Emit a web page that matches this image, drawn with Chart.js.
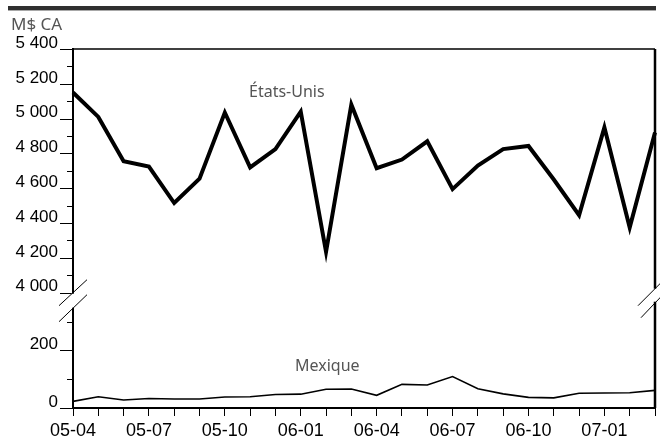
<!DOCTYPE html>
<html>
<head>
<meta charset="utf-8">
<script src="https://cdn.jsdelivr.net/npm/chart.js@4"></script>
<style>
  html, body { margin: 0; padding: 0; background: #fff; }
  #wrap { width: 660px; height: 438px; position: relative; }
</style>
</head>
<body>
<div id="wrap"><canvas id="chart"></canvas></div>
<script>
/* ── Data ── */
const months = [
  '05-04','05-05','05-06','05-07','05-08','05-09','05-10','05-11','05-12',
  '06-01','06-02','06-03','06-04','06-05','06-06','06-07','06-08','06-09',
  '06-10','06-11','06-12','07-01','07-02','07-03'
];
const etatsUnis = [
  5150, 5010, 4755, 4725, 4515, 4655, 5035, 4720, 4825, 5040, 4235, 5080,
  4715, 4765, 4870, 4595, 4730, 4825, 4843, 4650, 4445, 4950, 4375, 4920
];
const mexique = [
  23, 39, 28, 33, 31, 31, 38, 39, 47, 48, 65, 66,
  44, 82, 80, 109, 67, 49, 37, 35, 51, 52, 53, 61
];
const topRange = [4000, 5400];
const bottomRange = [0, 400];

const fmt = v => String(v).replace(/\B(?=(\d{3})+(?!\d))/g, ' ');

/* ── Decorations: ticks, frame, axis breaks, texts ── */
const decor = {
  id: 'decor',
  afterDraw(chart) {
    const { ctx, chartArea: a, scales } = chart;
    ctx.save();

    // top bar
    ctx.fillStyle = '#2f2f2f';
    ctx.fillRect(8, 6, 648, 4);
    ctx.fillStyle = '#a8a8a8';
    ctx.fillRect(8, 10, 648, 1);

    // frame top + right
    ctx.strokeStyle = '#000';
    ctx.lineWidth = 1.5;
    ctx.beginPath();
    ctx.moveTo(a.left, a.top); ctx.lineTo(a.right, a.top);
    ctx.stroke();
    ctx.lineWidth = 2.5;
    ctx.beginPath();
    ctx.moveTo(a.right, a.top); ctx.lineTo(a.right, a.bottom);
    ctx.stroke();

    // y ticks (major 200, minor 100)
    ctx.lineWidth = 1;
    [scales.yTop, scales.yBot].forEach(s => {
      s.ticks.forEach(t => {
        if (s.id === 'yBot' && t.value >= 400) return;
        const y = Math.round(s.getPixelForValue(t.value)) + 0.5;
        const len = t.value % 200 === 0 ? 13 : 6;
        ctx.beginPath();
        ctx.moveTo(a.left - len, y); ctx.lineTo(a.left, y);
        ctx.stroke();
      });
    });

    // axis breaks
    const yb = scales.yTop.getPixelForValue(4000);
    ctx.fillStyle = '#fff';
    ctx.fillRect(a.left - 2, yb + 1, 4, 14);
    ctx.fillRect(a.right - 2, yb - 4, 4, 13);
    ctx.lineWidth = 1;
    ctx.strokeStyle = '#000';
    ctx.beginPath();
    ctx.moveTo(59, yb + 13); ctx.lineTo(87, yb - 13);
    ctx.moveTo(59, yb + 29); ctx.lineTo(87, yb + 2);
    ctx.moveTo(638, yb + 13); ctx.lineTo(661, yb - 10);
    ctx.moveTo(641, yb + 25); ctx.lineTo(661, yb + 4);
    ctx.stroke();

    // texts
    ctx.fillStyle = '#555';
    ctx.font = '17px "Noto Sans"';
    ctx.textAlign = 'left';
    ctx.textBaseline = 'alphabetic';
    ctx.fillText('M$ CA', 11, 30);

    ctx.font = '16px "Noto Sans"';
    ctx.textAlign = 'center';
    ctx.fillText('États-Unis', scales.x.getPixelForValue(8.45), scales.yTop.getPixelForValue(5125));
    ctx.fillText('Mexique', scales.x.getPixelForValue(10.05), scales.yBot.getPixelForValue(127));

    ctx.restore();
  }
};

const yTicks = (labelIf) => ({
  stepSize: 100, autoSkip: false, maxTicksLimit: 50,
  padding: 15, labelOffset: -6, color: '#000',
  font: { family: '"Liberation Sans", Arial', size: 17 },
  callback: v => (labelIf(v) ? fmt(v) : ''),
});

/* ── Chart ── */
new Chart(document.getElementById('chart'), {
  type: 'line',
  data: {
    labels: months,
    datasets: [
      {
        label: 'États-Unis', data: etatsUnis, yAxisID: 'yTop',
        borderColor: '#000', borderWidth: 4, borderJoinStyle: 'miter',
        pointRadius: 0, tension: 0, fill: false,
      },
      {
        label: 'Mexique', data: mexique, yAxisID: 'yBot',
        borderColor: '#000', borderWidth: 1.6,
        pointRadius: 0, tension: 0, fill: false,
      },
    ],
  },
  options: {
    responsive: true, maintainAspectRatio: false,
    animation: false,
    layout: { padding: { top: 49, right: 5, left: 0, bottom: 0 } },
    plugins: { legend: { display: false }, tooltip: { enabled: false } },
    scales: {
      x: {
        type: 'category',
        offset: false,
        grid: { drawOnChartArea: false, drawTicks: true, tickLength: 8, color: '#000', tickWidth: 1 },
        border: { color: '#000', width: 2 },
        ticks: {
          autoSkip: false, maxRotation: 0, padding: 4, color: '#000',
          font: { family: '"Liberation Sans", Arial', size: 18 },
          callback: (v, i) => (i % 3 === 0 ? months[i] : ''),
        },
        afterFit: s => { s.height = 30; },
      },
      yTop: {
        type: 'linear', position: 'left', stack: 'y', stackWeight: 243.7, weight: 2,
        min: topRange[0], max: topRange[1],
        grid: { drawOnChartArea: false, drawTicks: false },
        border: { color: '#000', width: 2 },
        ticks: yTicks(v => v % 200 === 0),
        afterFit: s => { s.width = 73; },
      },
      yBot: {
        type: 'linear', position: 'left', stack: 'y', stackWeight: 115.3, weight: 1,
        min: bottomRange[0], max: bottomRange[1],
        grid: { drawOnChartArea: false, drawTicks: false },
        border: { color: '#000', width: 2 },
        ticks: yTicks(v => v % 200 === 0 && v < 400),
        afterFit: s => { s.width = 73; },
      },
    },
  },
  plugins: [decor],
});
</script>
</body>
</html>
